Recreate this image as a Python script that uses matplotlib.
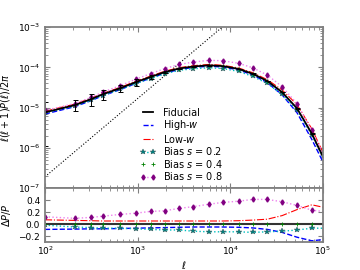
import matplotlib
matplotlib.use('Agg')
import matplotlib.pyplot as plt
from matplotlib.lines import Line2D
import numpy as np

# multipoles where the points are drawn (+ end of the range)
ell = [100, 210, 316, 420, 650, 950, 1380, 1950, 2800, 4000, 5900, 8300,
       12300, 17400, 25100, 36300, 52500, 75900, 100000]
# fiducial l(l+1)P/2pi, log10
logP_fid = [-5.12, -4.94, -4.79, -4.67, -4.52, -4.37, -4.24, -4.12, -4.03, -3.98,
            -3.95, -3.97, -4.04, -4.16, -4.34, -4.62, -5.02, -5.65, -6.22]
# error bars on the fiducial points (linear)
err_fid = [6.5e-6, 3.5e-6, 5.0e-6, 6.0e-6, 6.5e-6, 9.0e-6, 6.0e-6, 5.0e-6, 4.0e-6,
           3.0e-6, 2.5e-6, 2.0e-6, 1.5e-6, 1.0e-6, 6.0e-7, 3.0e-7, 1.5e-7, 5.0e-8]

# Delta P / P for each model
d_high = [-0.09, -0.085, -0.08, -0.08, -0.075, -0.07, -0.065, -0.06, -0.055, -0.05,
          -0.05, -0.05, -0.055, -0.065, -0.09, -0.14, -0.22, -0.28, -0.26]
d_low = [0.07, 0.06, 0.055, 0.05, 0.05, 0.05, 0.05, 0.05, 0.05, 0.05,
         0.05, 0.05, 0.055, 0.065, 0.08, 0.14, 0.24, 0.32, 0.28]
d_b02 = [-0.02, -0.05, -0.06, -0.07, -0.07, -0.08, -0.09, -0.10, -0.10, -0.12,
         -0.13, -0.13, -0.13, -0.14, -0.13, -0.12, -0.10, -0.07, -0.07]
d_b04 = [0.0] * 19
d_b08 = [0.12, 0.095, 0.11, 0.13, 0.16, 0.18, 0.21, 0.22, 0.26, 0.29,
         0.33, 0.36, 0.38, 0.41, 0.41, 0.37, 0.31, 0.23, 0.21]

# shot-noise like dotted line (two end points)
ell_sn = [100, 100000]
P_sn = [1.9e-7, 0.13]

ell = np.array(ell, dtype=float)
P_fid = 10 ** np.array(logP_fid)
pts = slice(0, -1)

gray = '#808080'
plt.rcParams['font.size'] = 6.5
plt.rcParams['xtick.direction'] = 'in'
plt.rcParams['ytick.direction'] = 'in'

star = dict(marker='*', ms=3.8, mfc='teal', mec='darkslategray', mew=0.3)
plus = dict(marker='+', ms=3, color='g', mew=0.6)
diam = dict(marker='d', ms=2.6, mfc='purple', mec='purple')

fig = plt.figure(figsize=(3.6, 2.7), dpi=100)
ax1 = fig.add_axes([0.125, 0.3037, 0.772, 0.596])
ax2 = fig.add_axes([0.125, 0.1037, 0.772, 0.2], sharex=ax1)

#panel superior
ax1.plot(ell_sn, P_sn, color='k', ls=':', lw=0.8)
ax1.plot(ell, P_fid * (1 + np.array(d_high)), color='b', ls='--', lw=1)
ax1.plot(ell, P_fid * (1 + np.array(d_low)), color='r', ls='-.', lw=0.8)
ax1.plot(ell, P_fid * (1 + np.array(d_b02)), color='c', ls=':', lw=1)
ax1.plot(ell, P_fid * (1 + np.array(d_b08)), color='violet', ls=':', lw=1)
ax1.plot(ell[pts], (P_fid * (1 + np.array(d_b02)))[pts], ls='none', **star)
ax1.plot(ell[pts], (P_fid * (1 + np.array(d_b04)))[pts], ls='none', **plus)
ax1.plot(ell[pts], (P_fid * (1 + np.array(d_b08)))[pts], ls='none', **diam)
ax1.plot(ell, P_fid, color='k', lw=1.3)
ax1.errorbar(ell[pts], P_fid[pts], yerr=err_fid, fmt='none', ecolor='k',
             elinewidth=0.7, capsize=1.8, capthick=0.7)
ax1.set_xscale('log')
ax1.set_yscale('log')
ax1.set_xlim(100, 1e5)
ax1.set_ylim(1e-7, 1e-3)
ax1.set_ylabel(r'$\ell(\ell+1)P(\ell)/2\pi$', fontsize=7)
ax1.tick_params(labelbottom=False)

handles = [
    Line2D([], [], color='k', lw=1.3),
    Line2D([], [], color='b', ls='--', lw=1),
    Line2D([], [], color='r', ls='-.', lw=0.8),
    Line2D([], [], color='c', ls=':', lw=1, **star),
    Line2D([], [], ls='none', **plus),
    Line2D([], [], color='violet', ls=':', lw=1, **diam),
]
labels = ['Fiducial', r'High-$w$', r'Low-$w$', r'Bias $s$ = 0.2',
          r'Bias $s$ = 0.4', r'Bias $s$ = 0.8']
ax1.legend(handles, labels, loc='lower left', bbox_to_anchor=(0.32, 0.0),
           frameon=False, fontsize=7, numpoints=2, handlelength=1.7,
           labelspacing=0.05, handletextpad=0.7, borderaxespad=0.2)

#panel inferior
ax2.plot(ell, d_high, color='b', ls='--', lw=1)
ax2.plot(ell, d_low, color='r', ls='-.', lw=0.8)
ax2.plot(ell, d_b02, color='c', ls=':', lw=1)
ax2.plot(ell, d_b08, color='violet', ls=':', lw=1)
ax2.plot(ell[pts], np.array(d_b02)[pts], ls='none', **star)
ax2.plot(ell[pts], np.array(d_b08)[pts], ls='none', **diam)
ax2.plot(ell, np.zeros(len(ell)), color='#333333', lw=1.5)
ax2.plot(ell[pts], np.array(d_b04)[pts], ls='none', **plus)
ax2.set_ylim(-0.3, 0.6)
ax2.set_yticks([-0.2, 0.0, 0.2, 0.4])
ax2.set_ylabel(r'$\Delta P/P$', fontsize=7)
ax2.set_xlabel(r'$\ell$', fontsize=7, labelpad=1)

for ax in (ax1, ax2):
    for s in ax.spines.values():
        s.set_color(gray)
        s.set_linewidth(1.3)
    ax.tick_params(which='both', top=True, right=True, color=gray)
    ax.tick_params(which='major', length=3.5)
    ax.tick_params(which='minor', length=2)
ax2.tick_params(axis='x', pad=2)

fig.savefig('out.png', dpi=100)
